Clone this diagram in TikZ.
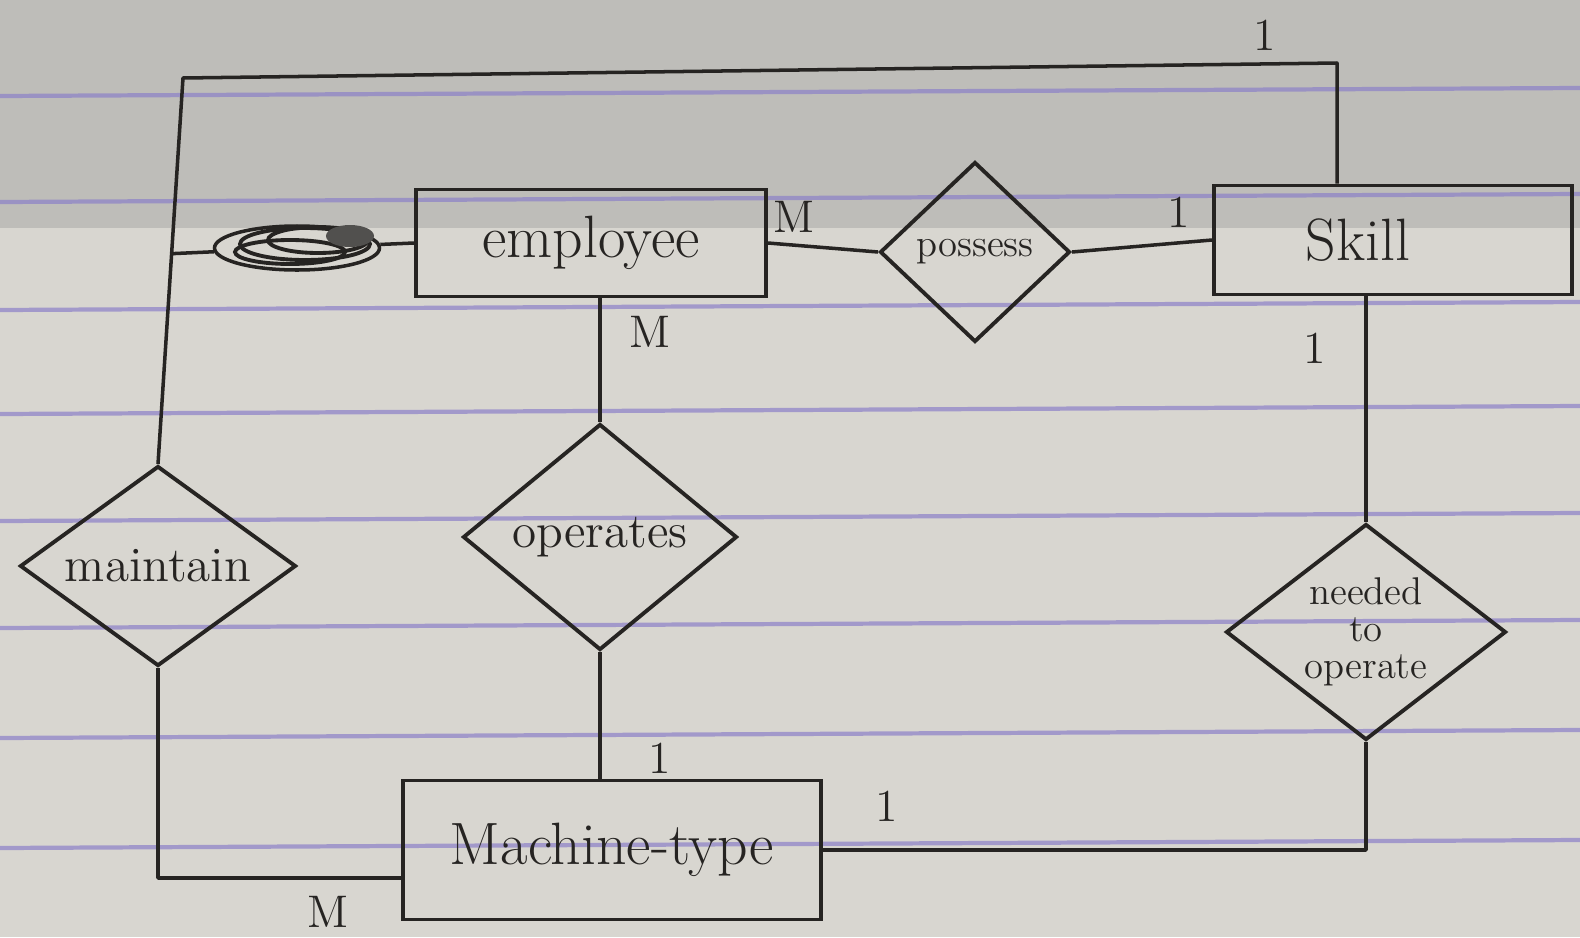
\documentclass[tikz,border=0pt]{standalone}
\usepackage{tikz}
\usetikzlibrary{shapes.geometric, calc}
\definecolor{ink}{RGB}{38,36,34}
\definecolor{paper}{RGB}{216,214,208}
\definecolor{topband}{RGB}{190,189,185}
\definecolor{ruling}{RGB}{140,128,200}

\begin{document}
\begin{tikzpicture}[
  x=0.1mm, y=-0.1mm,
  color=ink,
  entity/.style={draw=ink, line width=1.1pt, inner sep=2pt,
                 font=\fontsize{17}{20}\selectfont},
  relship/.style={diamond, draw=ink, line width=1.1pt, inner sep=0pt,
                  font=\fontsize{14}{16}\selectfont},
  card/.style={font=\fontsize{13}{15}\selectfont, inner sep=1pt},
  link/.style={draw=ink, line width=1pt, line join=round}
]
\useasboundingbox (0,0) rectangle (1580,937);

% ---- paper ----
\fill[paper] (0,0) rectangle (1580,937);
\fill[topband] (0,0) rectangle (1580,228);
\foreach \ly in {96,202,310,414,521,628,738,848}
  \draw[ruling, line width=1.2pt, opacity=0.7] (0,\ly) -- (1580,{\ly-8});

% ---- entities ----
\node[entity, minimum width=35mm, minimum height=10.7mm] (employee) at (591,243) {employee};
\node[entity, minimum width=35.8mm, minimum height=10.9mm] (skill) at (1393,240) {\hspace*{-7mm}Skill};
\node[entity, minimum width=41.8mm, minimum height=13.9mm] (machine) at (612,850) {Machine-type};

% ---- relationships ----
\node[relship, minimum width=19mm, minimum height=18mm, aspect=1.05,
      font=\fontsize{11}{13}\selectfont] (possess) at (975,252) {possess};
\node[relship, minimum width=27.6mm, minimum height=20mm, aspect=1.38] (maintain) at (158,566) {maintain};
\node[relship, minimum width=27.4mm, minimum height=22.6mm, aspect=1.21] (operates) at (600,537) {operates};
\node[relship, minimum width=28mm, minimum height=21.6mm, aspect=1.3, align=center,
      font=\fontsize{11}{10.5}\selectfont] (needed) at (1366,632) {needed\\to\\operate};

% ---- crossed-out attribute ----
\node[draw=ink, ellipse, line width=1pt, minimum width=16.5mm, minimum height=4.4mm,
      inner sep=0pt] (scrib) at (297,248) {};
\draw[ink, line width=1.1pt] (305,244) ellipse [x radius=6.5mm, y radius=1.6mm];
\draw[ink, line width=1.1pt] (318,240) ellipse [x radius=5mm, y radius=1.3mm];
\draw[ink, line width=1.1pt] (290,252) ellipse [x radius=5.5mm, y radius=1.2mm];
\fill[ink!80] (350,236) ellipse [x radius=2.4mm, y radius=1.1mm];

% ---- connectors ----
\coordinate (cornerL) at (183,78);
\coordinate (cornerR) at (1337,63);
\coordinate (jEmp) at ($(maintain.north)!0.545!(cornerL)$);
\coordinate (cornerBL) at (150,878);

\draw[link] (maintain.north) -- (cornerL) -- (cornerR) -- (cornerR |- skill.north);
\draw[link] (jEmp) -- (scrib);
\draw[link] (scrib) -- (employee.west);
\draw[link] (employee.east) -- (possess.west);
\draw[link] (possess.east) -- (skill.west);
\draw[link] (operates.north) -- (operates.north |- employee.south);
\draw[link] (operates.south) -- (operates.south |- machine.north);
\draw[link] (needed.north) -- (needed.north |- skill.south);
\draw[link] (maintain.south) -- (maintain.south |- cornerBL) -- (cornerBL -| machine.west);
\draw[link] (needed.south) -- (needed.south |- machine.east) -- (machine.east);

% ---- cardinalities ----
\node[card] (cTop) at (1265,35) {1};
\node[card] (cEmpPos) at (794,217) {M};
\node[card] (cSkPos) at (1179,212) {1};
\node[card] (cEmpOp) at (650,332) {M};
\node[card] (cSkNeed) at (1315,348) {1};
\node[card] (cMachOp) at (660,758) {1};
\node[card] (cMachNeed) at (887,806) {1};
\node[card] (cMachMain) at (328,912) {M};

\end{tikzpicture}
\end{document}
